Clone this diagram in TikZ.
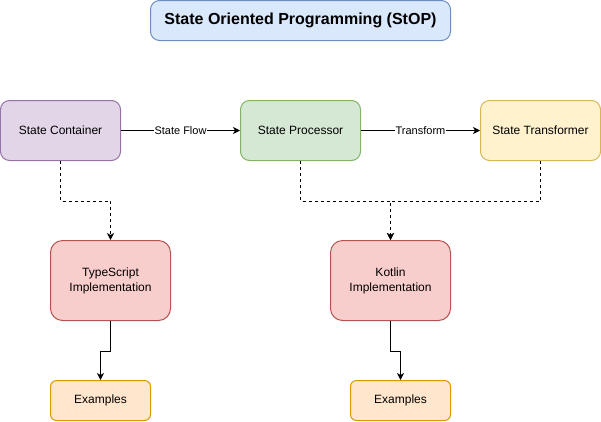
\documentclass[tikz,border=0pt]{standalone}
\usepackage{fontspec}
\setmainfont{Liberation Sans}
\usetikzlibrary{arrows.meta}

\definecolor{lilaFill}{HTML}{E1D5E7}
\definecolor{lilaLine}{HTML}{9673A6}
\definecolor{gruenFill}{HTML}{D5E8D4}
\definecolor{gruenLine}{HTML}{82B366}
\definecolor{gelbFill}{HTML}{FFF2CC}
\definecolor{gelbLine}{HTML}{D6B656}
\definecolor{rotFill}{HTML}{F8CECC}
\definecolor{rotLine}{HTML}{B85450}
\definecolor{orangeFill}{HTML}{FFE6CC}
\definecolor{orangeLine}{HTML}{D79B00}
\definecolor{blauFill}{HTML}{DAE8FC}
\definecolor{blauLine}{HTML}{6C8EBF}

\begin{document}
\begin{tikzpicture}[x=1pt,y=-1pt]
				% Einstellungen für die Kästchen
				\tikzset{box/.style={
						rounded corners=9pt, % Abgerundete Ecken
						line width=1pt, % Linienstärke
						minimum width=120pt, % Breite der Kästchen
						minimum height=60pt, % Höhe der Kästchen
						inner sep=0pt,
						text=black, % Textfarbe
						align=center, % Text zentrieren
						font=\fontsize{12}{15}\selectfont
					},
					lila/.style={draw=lilaLine, fill=lilaFill},
					gruen/.style={draw=gruenLine, fill=gruenFill},
					gelb/.style={draw=gelbLine, fill=gelbFill},
					titel/.style={box, draw=blauLine, fill=blauFill, minimum width=300pt, minimum height=40pt,
						font=\fontsize{16}{19}\selectfont\bfseries},
					umsetzung/.style={box, draw=rotLine, fill=rotFill, minimum height=80pt, rounded corners=12pt},
					beispiel/.style={box, draw=orangeLine, fill=orangeFill, minimum width=100pt, minimum height=40pt, rounded corners=6pt},
					pfeil/.style={line width=1pt, -{Stealth[length=7pt,width=7pt,inset=2pt]}}, % Durchgezogene Pfeile
					strichpfeil/.style={pfeil, dash pattern=on 3pt off 3pt}, % Gestrichelte Pfeile
					beschriftung/.style={fill=white, inner sep=1pt, font=\fontsize{11}{13}\selectfont} % Pfeiltext
				}
				
				\useasboundingbox (-0.5,-0.5) rectangle (600.5,420.5);
				
				% Titel
				\node[titel] (titel) at (300,20) {State Oriented Programming (StOP)};
				
				% Obere Reihe der Kästchen
				\foreach \name/\x/\stil/\text in {container/60/lila/State Container, processor/300/gruen/State Processor, transformer/540/gelb/State Transformer} {
					\node[box,\stil] (\name) at (\x,130) {\text};
				}
				
				% Umsetzungen und Beispiele
				\node[umsetzung] (typescript) at (110,280) {TypeScript\\Implementation};
				\node[umsetzung] (kotlin) at (390,280) {Kotlin\\Implementation};
				\node[beispiel] (tsbeispiele) at (100,400) {Examples};
				\node[beispiel] (ktbeispiele) at (400,400) {Examples};
				
				% Verbindungen
				\draw[pfeil] (container) -- node[beschriftung] {State Flow} (processor);
				\draw[pfeil] (processor) -- node[beschriftung] {Transform} (transformer);
				\draw[strichpfeil] (container.south) -- ++(0,40) -| (typescript.north);
				\draw[strichpfeil] (processor.south) -- ++(0,40) -| (kotlin.north);
				\draw[strichpfeil] (transformer.south) -- ++(0,40) -| (kotlin.north);
				\draw[pfeil] (typescript.south) -- ++(0,30) -| (tsbeispiele.north);
				\draw[pfeil] (kotlin.south) -- ++(0,30) -| (ktbeispiele.north);
			\end{tikzpicture}
\end{document}
